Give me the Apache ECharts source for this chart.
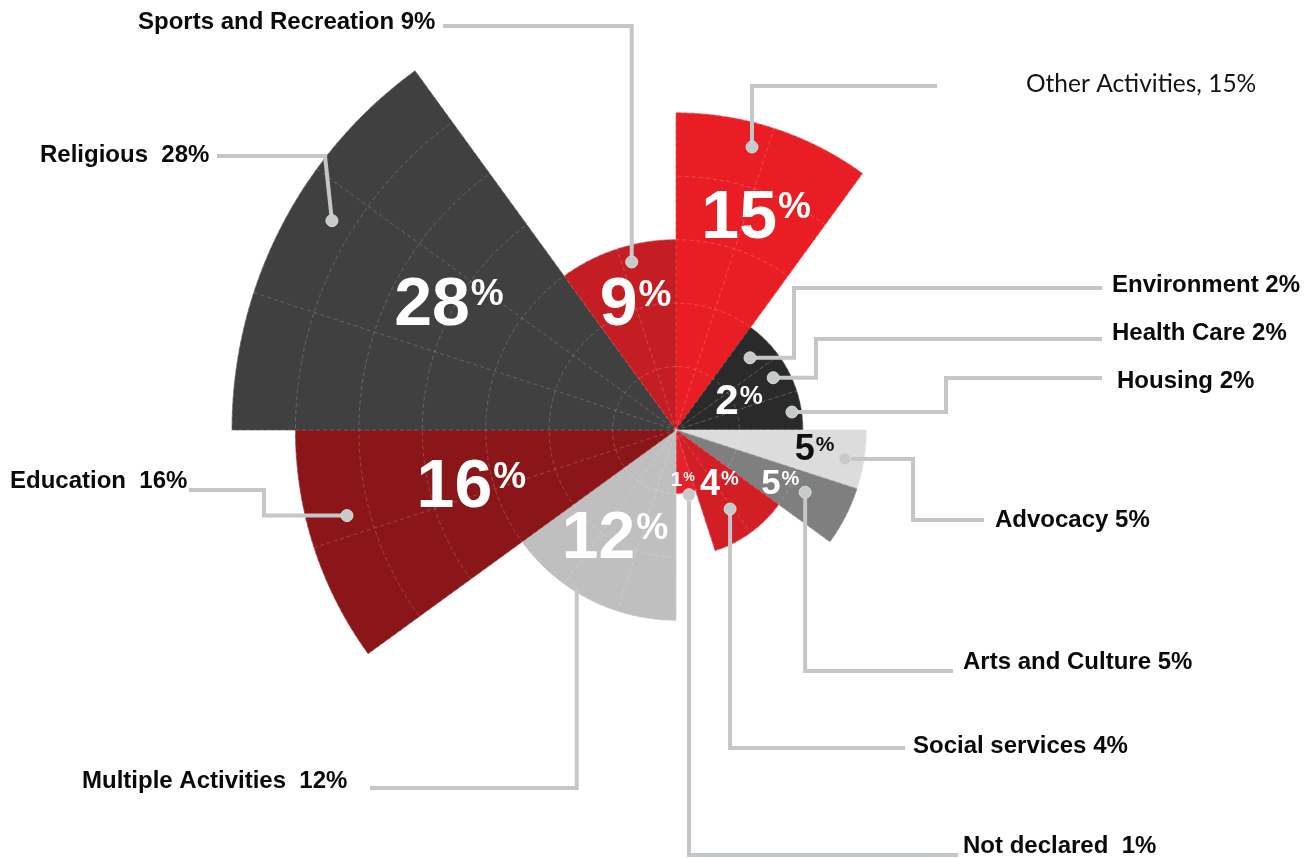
<!DOCTYPE html>
<html>
<head>
<meta charset="utf-8">
<script src="https://cdn.jsdelivr.net/npm/echarts@6/dist/echarts.min.js"></script>
<style>
  html, body { margin: 0; padding: 0; background: #ffffff; }
  #chart { width: 1310px; height: 858px; }
</style>
</head>
<body>
<div id="chart"></div>
<script>
// Activity categories, clockwise from 12 o'clock
const categories = ['Other Activities', 'Environment', 'Health Care', 'Housing', 'Advocacy',
  'Arts and Culture', 'Social services', 'Not declared', 'Multiple Activities', 'Education',
  'Religious', 'Sports and Recreation'];
// Share of organisations in each category, %
const percents = [15, 2, 2, 2, 5, 5, 4, 1, 12, 16, 28, 9];
// Angular width of each wedge, in 18-degree steps
const spans = [2, 1, 1, 1, 1, 1, 2, 1, 3, 2, 3, 2];
// Outer radius of each wedge, in grid rings
const rings = [5, 2, 2, 2, 3, 3, 2, 1, 3, 6, 7, 3];
// Caption text beside each leader line
const captions = ['Other Activities, 15%', 'Environment 2%', 'Health Care 2%', 'Housing 2%',
  'Advocacy 5%', 'Arts and Culture 5%', 'Social services 4%', 'Not declared  1%',
  'Multiple Activities  12%', 'Education  16%', 'Religious  28%', 'Sports and Recreation 9%'];

const wedgeColors = ['#e91e25', '#2a2a2a', '#2a2a2a', '#2a2a2a', '#dcdcdc', '#7f7f7f',
  '#d21f26', '#e8222a', '#bfbfbf', '#8a1619', '#404040', '#c41e24'];

// Big value labels inside the wedges: anchor in [ring, angle step] at the junction of digits and "%"
const valueLabelLayout = [
  { at: [3.69, 1.42], size: 68, pct: 37, color: '#ffffff' },
  null,
  { at: [1.08, 3.68], size: 42, pct: 26, color: '#ffffff' },
  null,
  { at: [2.21, 5.46], size: 36, pct: 21, color: '#111111' },
  { at: [1.86, 6.53], size: 35, pct: 20, color: '#ffffff' },
  { at: [1.11, 7.85], size: 36, pct: 20, color: '#ffffff' },
  { at: [0.80, 9.60], size: 21, pct: 13, color: '#ffffff' },
  { at: [1.85, 11.13], size: 66, pct: 36, color: '#ffffff' },
  { at: [3.04, 14.02], size: 68, pct: 37, color: '#ffffff' },
  { at: [3.79, 16.72], size: 68, pct: 37, color: '#ffffff' },
  { at: [2.04, 19.04], size: 68, pct: 37, color: '#ffffff' }
];

// Leader lines: dot in [ring, angle step]; route in page pixels ('X'/'Y' = dot x/y); caption origin
const leaderLayout = [
  { dot: [4.62, 0.835], route: [[937, 86], ['X', 86]], text: [1026, 84], plain: true },
  { dot: [1.63, 2.54], route: [[1102, 288], [794, 288], [794, 'Y']], text: [1112, 285] },
  { dot: [1.74, 3.43], route: [[1102, 339], [816, 339], [816, 'Y']], text: [1112, 333] },
  { dot: [1.85, 4.51], route: [[1102, 378], [946, 378], [946, 'Y']], text: [1117, 381] },
  { dot: [2.70, 5.54], route: [[984, 520], [913, 520], [913, 'Y']], text: [995, 520] },
  { dot: [2.26, 6.43], route: [[953, 671], ['X', 671]], text: [963, 662] },
  { dot: [1.51, 8.09], route: [[905, 748], ['X', 748]], text: [913, 746] },
  { dot: [1.04, 9.37], route: [[958, 855], ['X', 855]], text: [963, 846] },
  { dot: [2.95, 11.78], route: [[370, 788], ['X', 788]], text: [82, 781], noDot: true },
  { dot: [5.36, 14.19], route: [[189, 490], [264, 490], [264, 'Y']], text: [10, 481] },
  { dot: [6.35, 16.74], route: [[217, 156], [325, 156]], text: [40, 155] },
  { dot: [2.74, 19.18], route: [[443, 26], ['X', 26]], text: [138, 22] }
];

// Rows: [outer ring, start step, end step, index]
const wedges = [];
let cursor = 0;
categories.forEach(function (name, i) {
  wedges.push([rings[i], cursor, cursor + spans[i], i]);
  cursor += spans[i];
});

const BOLD = 'Liberation Sans, Arial, Helvetica, sans-serif';

function renderWedge(params, api) {
  const r = api.value(0), a0 = api.value(1), a1 = api.value(2), i = api.value(3);
  const steps = 60;
  const pts = [api.coord([0, a0])];
  for (let k = 0; k <= steps; k++) {
    pts.push(api.coord([r, a0 + (a1 - a0) * k / steps]));
  }
  return {
    type: 'polygon',
    shape: { points: pts },
    style: { fill: wedgeColors[i], stroke: wedgeColors[i], lineWidth: 0.6 }
  };
}

function renderOverlay(params, api) {
  const i = api.value(3);
  const children = [];
  const lead = leaderLayout[i];
  const dot = api.coord(lead.dot);
  const pts = lead.route.map(function (p) {
    return [p[0] === 'X' ? dot[0] : p[0], p[1] === 'Y' ? dot[1] : p[1]];
  });
  pts.push(dot);
  children.push({
    type: 'polyline',
    shape: { points: pts },
    style: { stroke: '#c3c7c7', lineWidth: 4, fill: null, lineJoin: 'miter', lineCap: 'butt' }
  });
  if (!lead.noDot) {
    children.push({
      type: 'circle',
      shape: { cx: dot[0], cy: dot[1], r: 6 },
      style: { fill: '#c6caca', stroke: '#d9dddd', lineWidth: 1 }
    });
  }
  children.push({
    type: 'text',
    x: lead.text[0], y: lead.text[1],
    style: lead.plain ? {
      text: captions[i], fill: '#141414', fontFamily: 'Lato, Open Sans, sans-serif',
      fontSize: 24.5, fontWeight: 'normal', align: 'left', verticalAlign: 'middle'
    } : {
      text: captions[i], fill: '#0a0a0a', fontFamily: BOLD,
      fontSize: 24, fontWeight: 'bold', align: 'left', verticalAlign: 'middle'
    }
  });

  const vl = valueLabelLayout[i];
  if (vl) {
    const p = api.coord(vl.at);
    children.push({
      type: 'text', x: p[0], y: p[1],
      style: {
        text: String(percents[i]), fill: vl.color, fontFamily: BOLD, fontWeight: 'bold',
        fontSize: vl.size, align: 'right', verticalAlign: 'middle'
      }
    });
    children.push({
      type: 'text', x: p[0] + 1, y: p[1] - 0.358 * (vl.size - vl.pct),
      style: {
        text: '%', fill: vl.color, fontFamily: BOLD, fontWeight: 'bold',
        fontSize: vl.pct, align: 'left', verticalAlign: 'middle'
      }
    });
  }
  return { type: 'group', children: children };
}

const chart = echarts.init(document.getElementById('chart'), null, { renderer: 'canvas' });
chart.setOption({
  backgroundColor: '#ffffff',
  animation: false,
  polar: { center: [676, 430], radius: 444 },
  angleAxis: {
    type: 'value', min: 0, max: 20, interval: 1, startAngle: 90, clockwise: true, z: 3,
    axisLine: { show: false }, axisTick: { show: false }, axisLabel: { show: false },
    splitLine: { show: true, lineStyle: { color: 'rgba(255,255,255,0.2)', width: 1, type: [4, 3] } }
  },
  radiusAxis: {
    type: 'value', min: 0, max: 7, interval: 1, z: 3,
    axisLine: { show: false }, axisTick: { show: false }, axisLabel: { show: false },
    splitLine: { show: true, lineStyle: { color: 'rgba(255,255,255,0.2)', width: 1, type: [4, 3] } }
  },
  series: [
    {
      type: 'custom', coordinateSystem: 'polar', z: 1, silent: true,
      dimensions: ['ring', 'start', 'end', 'idx'],
      encode: { radius: 0, angle: 1 },
      renderItem: renderWedge, data: wedges
    },
    {
      type: 'custom', coordinateSystem: 'polar', z: 6, silent: true,
      dimensions: ['ring', 'start', 'end', 'idx'],
      encode: { radius: 0, angle: 1 },
      renderItem: renderOverlay, data: wedges
    }
  ]
});
</script>
</body>
</html>
